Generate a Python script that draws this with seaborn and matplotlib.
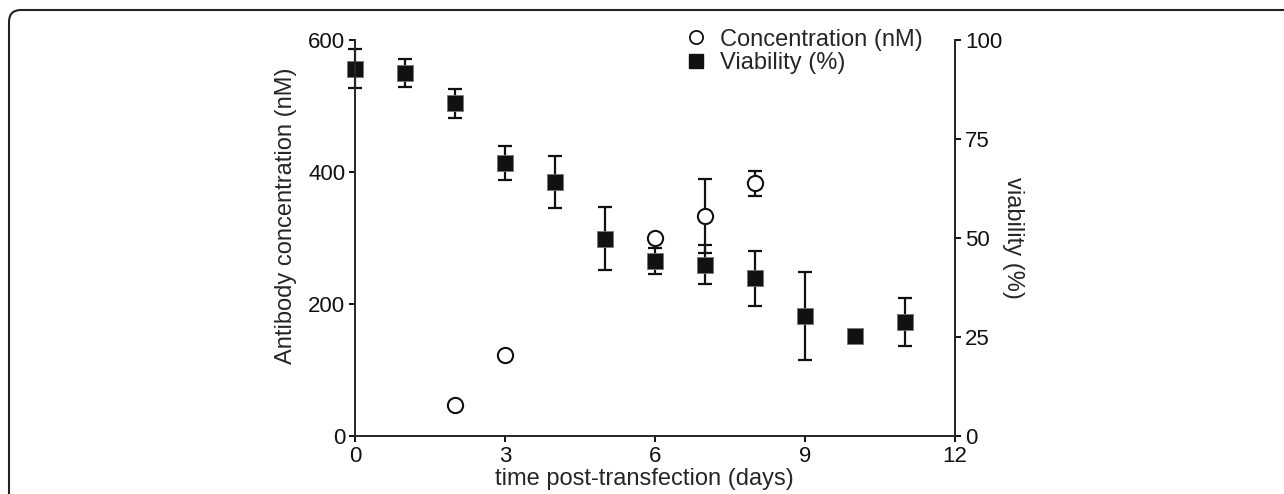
import numpy as np
import pandas as pd
import seaborn as sns
import matplotlib
matplotlib.use('Agg')
import matplotlib.pyplot as plt
from matplotlib.patches import FancyBboxPatch
from matplotlib.lines import Line2D

# antibody concentration (nM), left axis
conc_days = [2, 3, 6, 7, 8]
conc_vals = [47, 123, 300, 333, 383]
conc_err = [0, 0, 0, 56, 19]

# viability (%), right axis
via_days = [0, 1, 2, 3, 4, 5, 6, 7, 8, 9, 10, 11]
via_vals = [92.8, 91.6, 84.0, 68.9, 64.1, 49.8, 44.2, 43.3, 39.8, 30.3, 25.3, 28.8]
via_err = [5.0, 3.5, 3.6, 4.3, 6.5, 8.0, 3.3, 5.0, 7.0, 11.0, 0, 6.1]

conc_df = pd.DataFrame({'day': conc_days, 'conc': conc_vals, 'err': conc_err})
via_df = pd.DataFrame({'day': via_days, 'via': via_vals, 'err': via_err})

sns.set_style('ticks')
plt.rcParams['font.family'] = ['Liberation Sans', 'DejaVu Sans']
plt.rcParams['font.size'] = 17
plt.rcParams['axes.linewidth'] = 1.4
plt.rcParams['xtick.major.width'] = 1.4
plt.rcParams['ytick.major.width'] = 1.4
plt.rcParams['xtick.major.size'] = 4
plt.rcParams['ytick.major.size'] = 4

fig = plt.figure(figsize=(12.84, 4.94), dpi=100)
ax = fig.add_axes([0.2765, 0.1174, 0.4673, 0.8016])
ax2 = ax.twinx()

# rounded frame around the figure (clipped at right and bottom)
frame = FancyBboxPatch((0.09, -0.5), 13.5, 5.34, boxstyle='round,pad=0,rounding_size=0.12',
                       transform=fig.dpi_scale_trans, fill=False, edgecolor='#222222', linewidth=1.5)
fig.patches.append(frame)

ink = '#111111'

# viability squares with error bars
ax2.errorbar(via_df['day'], via_df['via'], yerr=via_df['err'], fmt='none', ecolor=ink,
             elinewidth=1.6, capsize=5, capthick=1.6, zorder=2, clip_on=False)
sns.scatterplot(data=via_df, x='day', y='via', ax=ax2, marker='s', s=135, color=ink,
                edgecolor='#777777', linewidth=0.6, zorder=3, legend=False, clip_on=False)

# concentration circles with error bars
ax.errorbar(conc_df['day'], conc_df['conc'], yerr=conc_df['err'], fmt='none', ecolor=ink,
            elinewidth=1.6, capsize=5, capthick=1.6, zorder=2, clip_on=False)
sns.scatterplot(data=conc_df, x='day', y='conc', ax=ax, marker='o', s=120, facecolor='white',
                edgecolor=ink, linewidth=1.5, zorder=3, legend=False, clip_on=False)

# circles sit above the squares
ax.set_zorder(ax2.get_zorder() + 1)
ax.patch.set_visible(False)

ax.set_xlim(0, 12)
ax.set_ylim(0, 600)
ax2.set_ylim(0, 100)
ax.set_xticks([0, 3, 6, 9, 12])
ax.set_yticks([0, 200, 400, 600])
ax2.set_yticks([0, 25, 50, 75, 100])

ax.set_xlabel('time post-transfection (days)')
ax.set_ylabel('Antibody concentration (nM)')
ax2.set_ylabel('viability (%)', rotation=270, labelpad=16)
ax.xaxis.set_label_coords(0.483, -0.082)
ax.yaxis.set_label_coords(-0.097, 0.557)

for a in (ax, ax2):
    a.spines['top'].set_visible(False)
    a.tick_params(colors=ink, labelsize=16, pad=3)
ax2.spines['left'].set_visible(False)
ax2.spines['bottom'].set_visible(False)

handles = [
    Line2D([], [], linestyle='none', marker='o', markersize=9.5, markerfacecolor='white',
           markeredgecolor=ink, markeredgewidth=1.3),
    Line2D([], [], linestyle='none', marker='s', markersize=10.5, markerfacecolor=ink,
           markeredgecolor=ink),
]
fig.legend(handles, ['Concentration (nM)', 'Viability (%)'], loc='upper left',
           bbox_to_anchor=(0.5165, 0.985), frameon=False, handlelength=1.0,
           handletextpad=0.5, labelspacing=0.05, fontsize=17)

fig.savefig('out.png', dpi=100)
